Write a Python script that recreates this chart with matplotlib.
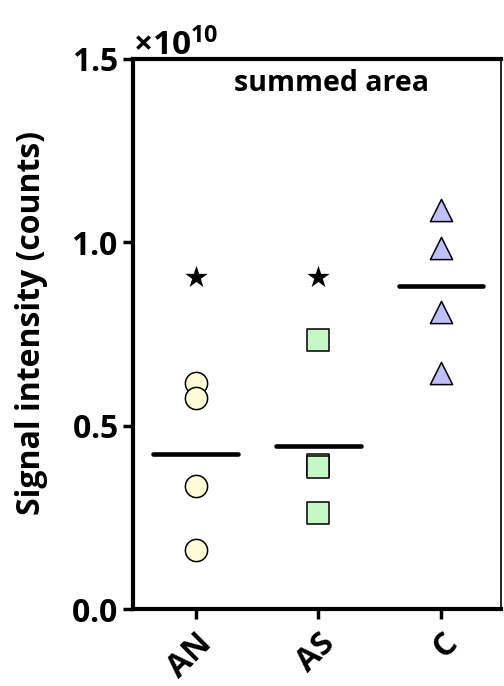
import numpy as np
import matplotlib.pyplot as plt
from matplotlib.ticker import ScalarFormatter

plt.rcParams['font.family'] = ['Open Sans', 'DejaVu Sans']
plt.rcParams['font.weight'] = 'bold'
plt.rcParams['axes.labelweight'] = 'bold'
plt.rcParams['mathtext.fontset'] = 'custom'
plt.rcParams['mathtext.rm'] = 'Open Sans:bold'
plt.rcParams['mathtext.bf'] = 'Open Sans:bold'

# Summed area signal per group (counts)
groups = ['AN', 'AS', 'C']
an_vals = [6.16e9, 5.75e9, 3.35e9, 1.61e9]
as_vals = [7.34e9, 3.92e9, 3.87e9, 2.62e9]
c_vals = [10.88e9, 9.84e9, 8.10e9, 6.44e9]
star_groups = [0, 1]
star_level = 9.05e9

fig = plt.figure(figsize=(5.04, 6.86), dpi=100)
ax = fig.add_axes([0.264, 0.1122, 0.730, 0.8018])

styles = [
    dict(marker='o', color='#FDFBD8'),
    dict(marker='s', color='#C6F7C6'),
    dict(marker='^', color='#C0C0F6'),
]
for i, (vals, st) in enumerate(zip([an_vals, as_vals, c_vals], styles)):
    ax.scatter(np.full(len(vals), i), vals, s=16**2, marker=st['marker'],
               facecolor=st['color'], edgecolor='black', linewidth=1.1, zorder=3)
    m = np.mean(vals)
    ax.plot([i - 0.345, i + 0.345], [m, m], color='black', lw=3.3,
            solid_capstyle='round', zorder=4)

ax.scatter(star_groups, [star_level] * len(star_groups), marker='*', s=17**2,
           color='black', linewidth=0, zorder=3)

ax.text(0.54, 0.955, 'summed area', transform=ax.transAxes,
        ha='center', va='center', fontsize=20.5)

ax.set_xlim(-0.51, 2.49)
ax.set_ylim(0, 1.5e10)
ax.set_yticks([0, 0.5e10, 1.0e10, 1.5e10])
fmt = ScalarFormatter(useMathText=True)
fmt.set_powerlimits((0, 0))
ax.yaxis.set_major_formatter(fmt)
ax.yaxis.get_offset_text().set_fontsize(24)
ax.yaxis.get_offset_text().set_fontweight('bold')

ax.set_xticks(range(len(groups)))
ax.set_xticklabels(groups, rotation=45, ha='right', va='top',
                   rotation_mode='anchor', fontsize=23)
ax.tick_params(axis='y', labelsize=23, width=2.5, length=7, pad=4)
ax.tick_params(axis='x', width=2.5, length=7, pad=6)
ax.set_ylabel('Signal intensity (counts)', fontsize=23, va='center')
ax.yaxis.set_label_coords(-0.277, 0.52)

for side in ['left', 'bottom', 'top']:
    ax.spines[side].set_linewidth(3)
ax.spines['right'].set_linewidth(1.2)

fig.savefig('out.png', dpi=100)
